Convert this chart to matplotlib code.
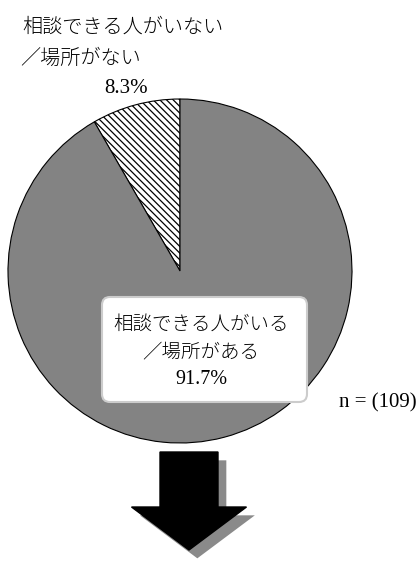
import matplotlib.pyplot as plt
from matplotlib.patches import FancyArrow, Shadow, FancyBboxPatch

plt.rcParams['font.family'] = ['Noto Sans CJK JP', 'DejaVu Sans']
plt.rcParams['hatch.linewidth'] = 0.9

# データ
labels = ['相談できる人がいない\n／場所がない', '相談できる人がいる\n／場所がある']
values = [8.3, 91.7]
n_total = 109

W, H = 419, 561
fig = plt.figure(figsize=(W / 100, H / 100), dpi=100)
ax = fig.add_axes([0, 0, 1, 1])

# 円グラフ
wedges, _ = ax.pie(values, center=(180, 290), radius=172, startangle=90,
                   counterclock=True, frame=True,
                   wedgeprops=dict(edgecolor='black', linewidth=0.8))
ax.set_xlim(0, W)
ax.set_ylim(0, H)
ax.set_aspect('equal')
ax.axis('off')
wedges[0].set_facecolor('white')
wedges[0].set_hatch('\\\\\\\\\\')
wedges[1].set_facecolor('#838383')

serif = ['Liberation Serif']

# ラベル（少数側）
top1, top2 = labels[0].split('\n')
ax.text(22, 534, top1, fontsize=14.5, ha='left', va='center', fontweight='light')
ax.text(20, 503, top2, fontsize=14.5, ha='left', va='center', fontweight='light')
ax.text(126, 473, f'{values[0]}%', fontsize=15, ha='center', va='center', family=serif)

# ラベル（多数側）
box = FancyBboxPatch((102, 159), 205, 105, boxstyle='round,pad=0,rounding_size=8',
                     facecolor='white', edgecolor='#cccccc', linewidth=1.5)
ax.add_patch(box)
mid1, mid2 = labels[1].split('\n')
ax.text(201, 237, mid1, fontsize=14, ha='center', va='center', fontweight='light')
ax.text(201, 209, mid2, fontsize=14, ha='center', va='center', fontweight='light')
ax.text(201, 182, f'{values[1]}%', fontsize=14.5, ha='center', va='center', family=serif)

ax.text(378, 158, f'n = ({n_total})', fontsize=15, ha='center', va='center', family=serif)

# 矢印
arrow = FancyArrow(189, 109, 0, -98, width=58, head_width=115, head_length=43,
                   length_includes_head=True, facecolor='black', edgecolor='black')
ax.add_patch(arrow)
sh = Shadow(arrow, 6, -6, facecolor='#8a8a8a', edgecolor='none', alpha=1)
sh.set_zorder(arrow.get_zorder() - 0.5)
ax.add_patch(sh)

fig.savefig('out.png', dpi=100)
